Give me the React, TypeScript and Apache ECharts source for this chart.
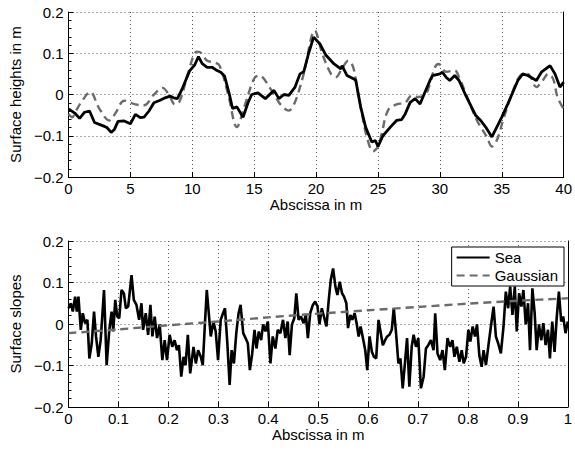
import React, { useEffect, useRef } from "react";
import * as echarts from "echarts";

// Top panel: surface heights (x in m, y in m)
const heightSeaX = [0, 0.5, 0.9, 1.3, 1.7, 2.1, 2.8, 3.1, 3.45, 3.7, 4.0, 4.5, 5.0, 5.4, 5.8, 6.1, 6.5, 6.9, 7.4, 7.8, 8.2, 8.5, 8.8, 9.2, 9.8, 10.2, 10.5, 10.8, 11.2, 11.6, 12.0, 12.3, 12.6, 13.0, 13.25, 13.6, 14.1, 14.5, 14.8, 15.3, 15.9, 16.6, 17.0, 17.4, 17.8, 18.3, 18.7, 19.0, 19.4, 19.8, 20.3, 20.8, 21.45, 22.0, 22.1, 22.5, 22.9, 23.2, 23.6, 24.0, 24.5, 24.8, 25.0, 25.4, 26.0, 26.5, 26.9, 27.2, 27.6, 28.0, 28.4, 28.8, 29.2, 29.4, 30.0, 30.2, 30.5, 30.8, 31.2, 31.55, 32.1, 32.5, 32.9, 33.3, 33.7, 34.2, 34.6, 35.0, 35.5, 35.9, 36.3, 36.7, 37.1, 37.8, 38.2, 38.9, 39.3, 39.7, 40];
const heightSeaY = [-0.035, -0.045, -0.058, -0.043, -0.04, -0.068, -0.076, -0.08, -0.092, -0.085, -0.065, -0.064, -0.071, -0.048, -0.056, -0.055, -0.04, -0.02, -0.014, -0.008, -0.004, -0.008, -0.01, 0.015, 0.058, 0.072, 0.092, 0.075, 0.066, 0.066, 0.058, 0.054, 0.045, 0.0, -0.034, -0.03, -0.055, -0.02, 0.0, 0.004, -0.01, 0.01, -0.01, 0.0, -0.002, 0.018, 0.05, 0.055, 0.1, 0.139, 0.123, 0.095, 0.074, 0.062, 0.07, 0.046, 0.04, 0.035, -0.03, -0.079, -0.115, -0.112, -0.126, -0.1, -0.079, -0.063, -0.061, -0.047, -0.019, -0.01, -0.023, 0.006, 0.034, 0.046, 0.05, 0.054, 0.042, 0.034, 0.046, 0.034, -0.003, -0.027, -0.051, -0.063, -0.079, -0.103, -0.079, -0.055, -0.022, 0.006, 0.034, 0.05, 0.046, 0.034, 0.054, 0.07, 0.05, 0.018, 0.03];
const heightGaussX = [0, 0.3, 0.6, 1.0, 1.75, 2.5, 3.3, 3.8, 4.5, 5.4, 6.1, 6.9, 7.6, 8.1, 8.6, 9.0, 9.7, 10.36, 10.6, 11.2, 11.8, 12.2, 12.9, 13.6, 14.2, 15.0, 15.4, 16.4, 17.2, 17.8, 18.3, 19.0, 19.9, 20.5, 21.2, 21.6, 22.1, 22.6, 23.0, 23.3, 23.7, 24.1, 24.6, 25.0, 25.3, 25.8, 26.5, 27.2, 27.7, 28.2, 28.8, 29.2, 29.6, 29.9, 30.5, 31.2, 31.55, 32.2, 33.0, 33.8, 34.2, 34.6, 35.1, 35.8, 36.5, 37.1, 37.8, 38.3, 38.75, 39.15, 39.5, 40];
const heightGaussY = [-0.047, -0.055, -0.04, -0.02, 0.006, -0.035, -0.063, -0.045, -0.015, -0.024, -0.026, 0.0, 0.016, 0.0, -0.024, -0.015, 0.056, 0.104, 0.103, 0.082, 0.078, 0.07, 0.0, -0.079, -0.03, 0.039, 0.046, 0.01, -0.027, -0.039, -0.018, 0.05, 0.155, 0.099, 0.05, 0.042, 0.063, 0.082, 0.066, 0.018, -0.046, -0.103, -0.138, -0.126, -0.095, -0.039, -0.024, -0.02, -0.003, -0.006, -0.002, 0.026, 0.066, 0.074, 0.055, 0.058, 0.042, -0.006, -0.063, -0.103, -0.126, -0.111, -0.063, 0.0, 0.046, 0.05, 0.018, 0.034, 0.05, 0.038, -0.006, -0.035];

// Bottom panel: surface slopes (x in m)
const slopeSeaX = [0, 0.0046, 0.0086, 0.0133, 0.0166, 0.0199, 0.0246, 0.0286, 0.0332, 0.0378, 0.0418, 0.0465, 0.0511, 0.0551, 0.0598, 0.0644, 0.0711, 0.0764, 0.0817, 0.0863, 0.0896, 0.0936, 0.0976, 0.1016, 0.1062, 0.1109, 0.1149, 0.1195, 0.1262, 0.1308, 0.1361, 0.1414, 0.1461, 0.1494, 0.1547, 0.1594, 0.164, 0.168, 0.1726, 0.1773, 0.1826, 0.1879, 0.1926, 0.1972, 0.2025, 0.2078, 0.2125, 0.2171, 0.2211, 0.2258, 0.2304, 0.2344, 0.239, 0.2437, 0.2503, 0.255, 0.2596, 0.2649, 0.2689, 0.2729, 0.2769, 0.2815, 0.2849, 0.2902, 0.2948, 0.2995, 0.3048, 0.3094, 0.3134, 0.3181, 0.3227, 0.3267, 0.3313, 0.336, 0.3406, 0.3446, 0.3499, 0.3546, 0.3592, 0.3632, 0.3679, 0.3725, 0.3765, 0.3811, 0.3858, 0.3898, 0.3944, 0.3991, 0.4044, 0.409, 0.4143, 0.419, 0.4243, 0.4296, 0.4343, 0.4389, 0.4429, 0.4475, 0.4522, 0.4562, 0.4608, 0.4655, 0.4708, 0.4754, 0.4794, 0.4841, 0.4894, 0.494, 0.4987, 0.5026, 0.5073, 0.5166, 0.5212, 0.5252, 0.5299, 0.5345, 0.5385, 0.5432, 0.5478, 0.5518, 0.5564, 0.5598, 0.5644, 0.5684, 0.573, 0.577, 0.581, 0.585, 0.5896, 0.5943, 0.5983, 0.6029, 0.6076, 0.6116, 0.6162, 0.6209, 0.6248, 0.6295, 0.6341, 0.6381, 0.6428, 0.6474, 0.6514, 0.656, 0.6607, 0.6647, 0.6693, 0.674, 0.678, 0.6826, 0.6873, 0.6912, 0.6959, 0.7005, 0.7058, 0.7112, 0.7158, 0.7205, 0.7258, 0.7311, 0.7344, 0.739, 0.7444, 0.749, 0.7537, 0.759, 0.7643, 0.7689, 0.7729, 0.7776, 0.7829, 0.7875, 0.7915, 0.7961, 0.8008, 0.8048, 0.8094, 0.8141, 0.8181, 0.8227, 0.8274, 0.8313, 0.836, 0.8406, 0.8459, 0.8513, 0.8559, 0.8606, 0.8659, 0.8712, 0.8758, 0.8805, 0.8845, 0.8891, 0.8938, 0.8977, 0.9024, 0.907, 0.911, 0.9157, 0.9203, 0.9243, 0.929, 0.9336, 0.9376, 0.9422, 0.9469, 0.9509, 0.9555, 0.9602, 0.9641, 0.9688, 0.9734, 0.9774, 0.9821, 0.9867, 0.9907, 0.9954, 1.0];
const slopeSeaY = [0.038, 0.05, 0.03, 0.066, 0.03, 0.066, -0.014, 0.026, 0.002, 0.01, -0.083, -0.047, 0.03, -0.03, -0.079, -0.039, 0.082, -0.099, -0.014, 0.03, -0.018, 0.058, 0.018, 0.014, 0.082, 0.074, 0.038, 0.042, 0.118, 0.058, 0.046, 0.01, 0.05, -0.014, 0.026, -0.026, 0.046, -0.03, 0.018, -0.034, -0.001, -0.087, -0.039, -0.087, -0.026, -0.055, -0.039, -0.063, -0.051, -0.127, -0.079, -0.099, -0.026, -0.119, -0.055, -0.095, -0.063, -0.079, -0.099, -0.006, 0.082, 0.018, -0.03, 0.006, -0.018, -0.087, 0.01, 0.026, 0.038, -0.047, -0.147, -0.063, -0.095, -0.022, 0.026, 0.046, -0.022, -0.034, -0.047, -0.111, -0.071, -0.014, -0.059, -0.018, -0.039, -0.001, -0.018, 0.006, -0.095, -0.03, -0.059, -0.014, -0.022, 0.01, -0.034, 0.006, -0.075, -0.001, 0.014, 0.074, 0.01, 0.018, 0.002, 0.022, -0.034, 0.026, 0.046, 0.054, 0.042, -0.001, 0.038, -0.006, 0.058, 0.106, 0.134, 0.09, 0.07, 0.102, 0.074, 0.066, 0.05, -0.01, 0.022, 0.01, 0.026, 0.002, -0.03, -0.006, -0.034, -0.063, -0.111, -0.03, -0.067, -0.079, -0.083, 0.01, -0.018, -0.051, -0.039, -0.03, -0.026, -0.014, 0.038, -0.022, -0.095, -0.083, -0.155, -0.091, -0.034, -0.151, -0.055, -0.026, -0.055, -0.034, -0.155, -0.127, -0.059, -0.051, -0.039, -0.063, 0.026, -0.071, -0.087, -0.063, -0.111, -0.034, -0.055, -0.039, -0.079, -0.055, -0.091, -0.063, -0.095, -0.079, -0.014, -0.042, -0.006, -0.03, -0.001, -0.075, -0.103, -0.063, -0.099, -0.055, -0.006, 0.042, -0.03, -0.047, -0.071, -0.006, 0.078, 0.038, 0.09, 0.022, 0.09, -0.018, 0.074, 0.042, 0.082, -0.001, 0.05, -0.063, 0.086, 0.026, -0.063, -0.001, -0.039, 0.002, -0.051, -0.014, -0.083, 0.006, -0.067, 0.01, 0.078, 0.006, 0.018, -0.022, 0.006];
const slopeGaussX = [0, 0.1, 0.2, 0.3, 0.4, 0.5, 0.6, 0.7, 0.8, 0.9, 1.0];
const slopeGaussY = [-0.022, -0.013, -0.003, 0.006, 0.016, 0.025, 0.033, 0.041, 0.049, 0.056, 0.062];

const yTicks = ["−0.2", "−0.1", "0", "0.1", "0.2"];
const topXTicks = ["0", "5", "10", "15", "20", "25", "30", "35", "40"];
const bottomXTicks = ["0", "0.1", "0.2", "0.3", "0.4", "0.5", "0.6", "0.7", "0.8", "0.9", "1"];

const zip = (xs: number[], ys: number[]) => xs.map((x, i) => [x, ys[i]]);

const FONT = "Liberation Sans, Arial, Helvetica, sans-serif";
const FS = 15;

export default function App() {
  const ref = useRef<HTMLDivElement>(null);
  useEffect(() => {
    if (!ref.current) return;
    const chart = echarts.init(ref.current, null, { renderer: "svg" });
    const grid = [
      { left: 67, right: 6, top: 12, height: 165 },
      { left: 67, right: 6, top: 241, height: 166 },
    ];
    const gridLine = { show: true, lineStyle: { color: "#555", type: [1, 3] as any, width: 1 } };
    const yLabelFmt = (v: number) => yTicks[Math.round(v * 10) + 2];
    const mkX = (gi: number, max: number, interval: number, labels: string[]) => ({
      type: "value",
      gridIndex: gi,
      min: 0,
      max,
      interval,
      name: "Abscissa in m",
      nameLocation: "middle",
      nameGap: 20,
      nameTextStyle: { fontFamily: FONT, fontSize: FS, color: "#000" },
      axisLine: { show: true, onZero: false, lineStyle: { color: "#000", width: 1 } },
      axisTick: { show: true, inside: true, length: 5, lineStyle: { color: "#000" } },
      axisLabel: {
        fontFamily: FONT,
        fontSize: FS,
        color: "#000",
        margin: 4,
        formatter: (v: number) => labels[Math.round(v / interval)],
      },
      splitLine: gridLine,
    });
    const mkY = (gi: number, name: string) => ({
      type: "value",
      gridIndex: gi,
      min: -0.2,
      max: 0.2,
      interval: 0.1,
      name,
      nameLocation: "middle",
      nameGap: 41,
      nameTextStyle: { fontFamily: FONT, fontSize: FS, color: "#000" },
      axisLine: { show: true, onZero: false, lineStyle: { color: "#000", width: 1 } },
      axisTick: { show: true, inside: true, length: 5, lineStyle: { color: "#000" } },
      minorTick: { show: true, splitNumber: 5, length: 3, lineStyle: { color: "#000" } },
      axisLabel: { fontFamily: FONT, fontSize: FS, color: "#000", margin: 5, formatter: yLabelFmt },
      splitLine: gridLine,
    });
    const mkRight = (gi: number) => ({
      type: "value",
      gridIndex: gi,
      position: "right",
      min: -0.2,
      max: 0.2,
      interval: 0.1,
      axisLine: { show: true, onZero: false, lineStyle: { color: "#000", width: 1 } },
      axisTick: { show: false },
      axisLabel: { show: false },
      splitLine: { show: false },
    });
    const seaStyle = { color: "#000", width: 2.6, type: "solid" };
    const gaussStyle = { color: "#6b6b6b", width: 2.4, type: [8, 5] as any };
    chart.setOption({
      animation: false,
      backgroundColor: "#fff",
      textStyle: { fontFamily: FONT },
      grid,
      xAxis: [mkX(0, 40, 5, topXTicks), mkX(1, 1, 0.1, bottomXTicks)],
      yAxis: [mkY(0, "Surface heights in m"), mkY(1, "Surface slopes"), mkRight(0), mkRight(1)],
      legend: {
        show: true,
        data: ["Sea", "Gaussian"],
        orient: "vertical",
        right: 11,
        top: 247,
        align: "left",
        itemWidth: 33,
        itemHeight: 16,
        itemGap: 3,
        padding: [3, 6, 3, 4],
        borderColor: "#000",
        borderWidth: 1,
        borderRadius: 0,
        backgroundColor: "#fff",
        itemStyle: { opacity: 0 },
        textStyle: { fontFamily: FONT, fontSize: FS, color: "#000" },
      },
      series: [
        {
          type: "line", name: "Gaussian", xAxisIndex: 0, yAxisIndex: 0,
          data: zip(heightGaussX, heightGaussY), symbol: "none", smooth: 0.35,
          lineStyle: gaussStyle, itemStyle: { color: "#6b6b6b" }, z: 2,
        },
        {
          type: "line", name: "Sea", xAxisIndex: 0, yAxisIndex: 0,
          data: zip(heightSeaX, heightSeaY), symbol: "none",
          lineStyle: { ...seaStyle, width: 2.8 }, itemStyle: { color: "#000" }, z: 3,
        },
        {
          type: "line", name: "Sea", xAxisIndex: 1, yAxisIndex: 1,
          data: zip(slopeSeaX, slopeSeaY), symbol: "none",
          lineStyle: seaStyle, itemStyle: { color: "#000" }, z: 2,
        },
        {
          type: "line", name: "Gaussian", xAxisIndex: 1, yAxisIndex: 1,
          data: zip(slopeGaussX, slopeGaussY), symbol: "none", smooth: 0.3,
          lineStyle: gaussStyle, itemStyle: { color: "#6b6b6b" }, z: 3,
        },
      ],
    });
    return () => chart.dispose();
  }, []);
  return <div ref={ref} style={{ width: 575, height: 450, position: "absolute", left: 0, top: 0 }} />;
}
